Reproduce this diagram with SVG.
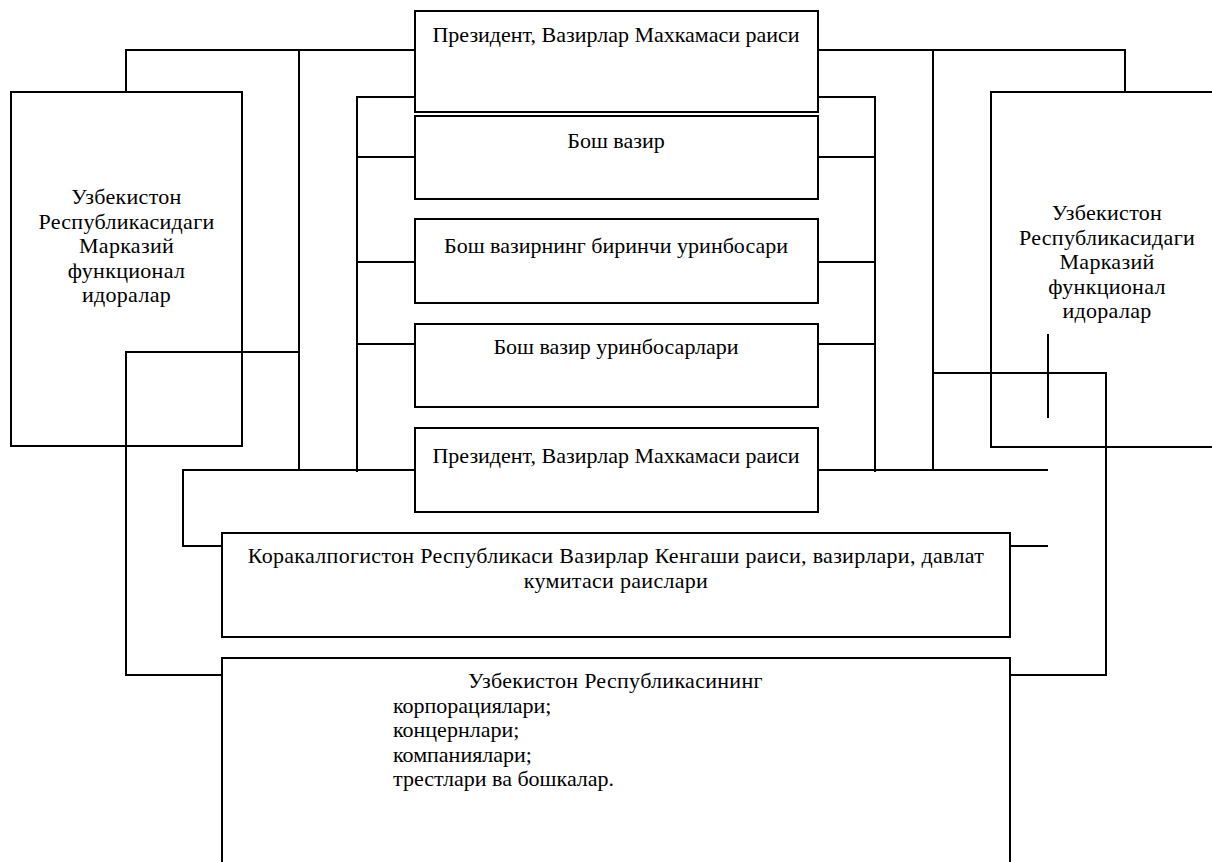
<svg xmlns="http://www.w3.org/2000/svg" width="1212" height="862" viewBox="0 0 1212 862">
<style>
.box{fill:#fff;stroke:#000;stroke-width:2}
.ln{fill:none;stroke:#000;stroke-width:2}
text{font-size:22px;fill:#000}
.c{text-anchor:middle}
.w{letter-spacing:0.3px}
</style>
<rect width="1212" height="862" fill="#fff"/>
<g font-family="'Liberation Serif','Times New Roman','DejaVu Serif',serif">
<g id="left-box">
<rect class="box" x="11" y="92" width="231" height="354"/>
<text class="c w" x="126.5" y="204">Узбекистон</text>
<text class="c w" x="126.5" y="228.5">Республикасидаги</text>
<text class="c w" x="126.5" y="253">Марказий</text>
<text class="c w" x="126.5" y="277.5">функционал</text>
<text class="c w" x="126.5" y="302">идоралар</text>
</g>
<g id="right-box">
<rect class="box" x="991" y="92" width="240" height="355"/>
<text class="c w" x="1107" y="220">Узбекистон</text>
<text class="c w" x="1107" y="244.5">Республикасидаги</text>
<text class="c w" x="1107" y="269">Марказий</text>
<text class="c w" x="1107" y="293.5">функционал</text>
<text class="c w" x="1107" y="318">идоралар</text>
</g>
<g id="president-top">
<rect class="box" x="415" y="11" width="403" height="101"/>
<text class="c" x="616" y="42">Президент, Вазирлар Махкамаси раиси</text>
</g>
<g id="bosh-vazir">
<rect class="box" x="415" y="116" width="403" height="83"/>
<text class="c" x="616" y="148">Бош вазир</text>
</g>
<g id="birinchi">
<rect class="box" x="415" y="219" width="403" height="84"/>
<text class="c" x="616" y="253">Бош вазирнинг биринчи уринбосари</text>
</g>
<g id="urinbosarlar">
<rect class="box" x="415" y="324" width="403" height="83"/>
<text class="c" x="616" y="354">Бош вазир уринбосарлари</text>
</g>
<g id="president-bottom">
<rect class="box" x="415" y="428" width="403" height="84"/>
<text class="c" x="616" y="463">Президент, Вазирлар Махкамаси раиси</text>
</g>
<g id="qoraqalpoq">
<rect class="box" x="222" y="533" width="788" height="104"/>
<text class="c w" x="616" y="563">Коракалпогистон Республикаси Вазирлар Кенгаши раиси, вазирлари, давлат</text>
<text class="c w" x="616" y="587.5">кумитаси раислари</text>
</g>
<g id="korporatsiyalar">
<rect class="box" x="222" y="658" width="788" height="220"/>
<text class="w" x="468" y="688">Узбекистон Республикасининг</text>
<text x="393" y="712.5">корпорациялари;</text>
<text x="393" y="737">концернлари;</text>
<text x="393" y="761.5">компаниялари;</text>
<text x="393" y="786">трестлари ва бошкалар.</text>
</g>
</g>
<g id="connectors">
<polyline class="ln" points="126,92 126,50 415,50"/>
<polyline class="ln" points="299,50 299,470"/>
<polyline class="ln" points="299,352 126,352 126,675 222,675"/>
<polyline class="ln" points="415,97 357,97 357,472"/>
<line class="ln" x1="357" y1="157" x2="415" y2="157"/>
<line class="ln" x1="357" y1="262" x2="415" y2="262"/>
<line class="ln" x1="357" y1="344" x2="415" y2="344"/>
<polyline class="ln" points="415,470 183,470 183,546 222,546"/>
<polyline class="ln" points="818,50 1125,50 1125,92"/>
<polyline class="ln" points="933,50 933,470"/>
<polyline class="ln" points="818,97 875,97 875,472"/>
<line class="ln" x1="818" y1="157" x2="875" y2="157"/>
<line class="ln" x1="818" y1="262" x2="875" y2="262"/>
<line class="ln" x1="818" y1="344" x2="875" y2="344"/>
<line class="ln" x1="818" y1="470" x2="1048" y2="470"/>
<polyline class="ln" points="933,373 1106,373 1106,675 1010,675"/>
<line class="ln" x1="1048" y1="334" x2="1048" y2="418"/>
<line class="ln" x1="1010" y1="546" x2="1048" y2="546"/>
</g>
</svg>
